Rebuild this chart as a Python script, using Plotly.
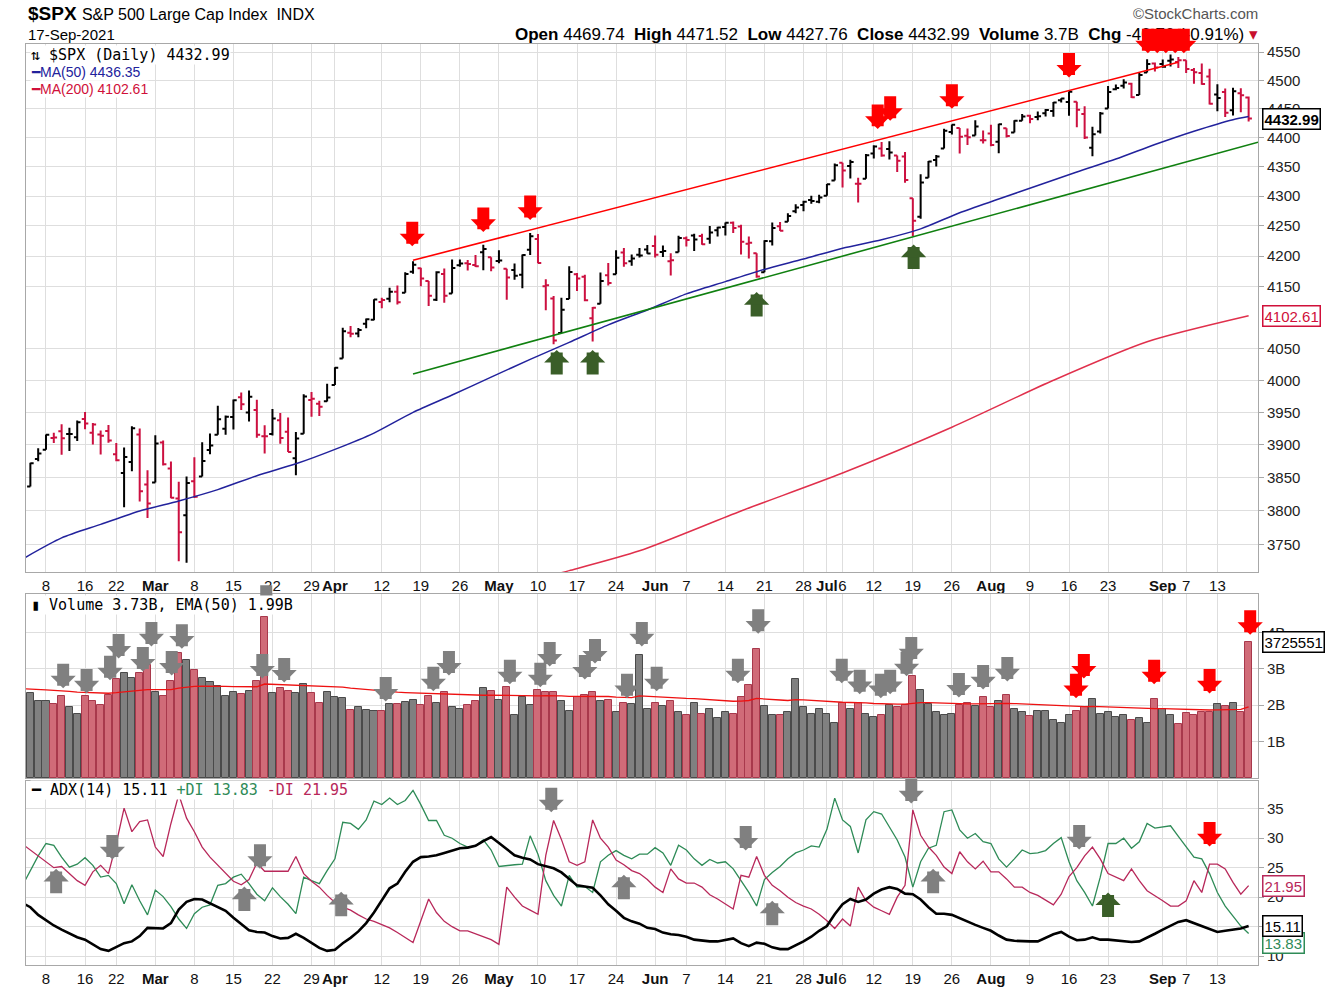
import math
import pandas as pd
import plotly.graph_objects as go

# ---------------- data ----------------
holidays = ["2021-02-15", "2021-04-02", "2021-05-31", "2021-07-05", "2021-09-06"]
dates = [d for d in pd.bdate_range("2021-02-03", "2021-09-17") if d.strftime("%Y-%m-%d") not in holidays]
prior_close = 3826.31

opens = [3840.27, 3836.66, 3878.30, 3892.59, 3910.49, 3920.78, 3916.40, 3911.65, 3939.61, 3918.50, 3915.86, 3921.16, 3885.55, 3857.07, 3873.71, 3915.80, 3839.66,
         3842.51, 3903.64, 3863.99, 3818.53, 3793.58, 3844.39, 3851.93, 3891.99, 3915.54, 3924.52, 3942.96, 3973.59, 3949.57, 3953.50, 3913.14, 3916.48, 3937.60, 3919.93, 3879.34, 3917.12, 3969.31, 3963.34, 3967.25,
         3992.78, 4034.44, 4075.57, 4074.29, 4089.95, 4096.11, 4124.71, 4130.10, 4141.58, 4139.76, 4174.14, 4179.80, 4159.18, 4128.42, 4170.46, 4138.78, 4185.03, 4188.25, 4185.14, 4206.14, 4198.10,
         4191.98, 4179.04, 4177.06, 4169.14, 4210.34, 4228.29, 4150.34, 4130.55, 4074.99, 4129.58, 4169.92, 4165.94, 4098.45, 4121.97, 4168.61, 4170.16, 4205.94, 4191.59, 4201.94, 4210.77,
         4216.52, 4206.82, 4191.43, 4206.05, 4229.34, 4233.81, 4232.99, 4228.56, 4242.90, 4248.31, 4255.28, 4248.87, 4220.37, 4204.78, 4173.40, 4224.61, 4249.27, 4256.97, 4274.45, 4284.90, 4293.21, 4290.65,
         4300.73, 4326.60, 4356.46, 4351.01, 4321.07, 4329.38, 4372.41, 4381.07, 4380.11, 4369.02, 4367.43, 4296.40, 4265.11, 4331.13, 4361.27, 4381.20, 4409.58, 4416.38, 4402.95, 4403.59, 4395.12,
         4406.86, 4392.74, 4415.95, 4408.86, 4429.07, 4437.77, 4435.79, 4442.18, 4446.08, 4464.84, 4461.65, 4462.12, 4440.94, 4382.44, 4410.56, 4450.29, 4484.40, 4490.45, 4493.75, 4474.10, 4513.76, 4529.75,
         4528.80, 4534.48, 4532.42, 4535.38, 4518.09, 4513.02, 4506.92, 4474.81, 4479.33, 4447.49, 4477.09, 4469.74]
highs = [3847.51, 3872.42, 3894.56, 3915.77, 3918.35, 3931.50, 3925.99, 3937.23, 3950.43, 3933.61, 3921.98, 3930.41, 3902.92, 3895.98, 3928.65, 3925.02, 3861.08,
         3914.50, 3906.41, 3874.47, 3843.67, 3851.69, 3881.06, 3903.76, 3917.35, 3960.27, 3944.99, 3970.08, 3981.04, 3983.87, 3969.62, 3930.12, 3955.31, 3949.13, 3942.08, 3919.54, 3978.19, 3981.83, 3968.01, 3994.41,
         4020.63, 4083.42, 4086.23, 4083.13, 4098.19, 4129.48, 4131.76, 4148.00, 4151.69, 4173.49, 4191.31, 4180.81, 4159.18, 4175.02, 4179.57, 4194.17, 4194.19, 4193.35, 4201.53, 4218.78, 4198.10,
         4209.39, 4179.04, 4187.72, 4202.70, 4238.04, 4236.39, 4162.04, 4134.73, 4131.58, 4183.13, 4171.92, 4169.15, 4116.93, 4172.80, 4188.72, 4209.52, 4213.42, 4202.61, 4213.38, 4218.36,
         4234.12, 4217.37, 4204.39, 4233.45, 4232.34, 4236.74, 4237.09, 4249.74, 4248.38, 4255.59, 4257.16, 4251.89, 4232.29, 4204.78, 4226.24, 4255.84, 4256.60, 4271.28, 4286.12, 4292.14, 4300.52, 4302.43,
         4320.66, 4355.43, 4356.46, 4361.88, 4330.88, 4371.60, 4386.68, 4392.37, 4393.68, 4369.02, 4375.09, 4296.40, 4336.84, 4359.70, 4369.87, 4415.18, 4422.73, 4416.38, 4415.47, 4429.97, 4412.25,
         4422.18, 4423.79, 4416.17, 4429.76, 4440.82, 4439.39, 4445.21, 4449.44, 4461.77, 4468.37, 4480.26, 4462.12, 4454.32, 4418.61, 4444.35, 4489.88, 4492.81, 4501.71, 4495.90, 4513.33, 4537.36, 4531.39,
         4537.11, 4545.85, 4541.45, 4535.38, 4521.79, 4529.90, 4520.47, 4492.99, 4485.68, 4486.87, 4485.87, 4471.52]
lows = [3816.68, 3836.66, 3874.93, 3892.59, 3902.64, 3884.94, 3890.39, 3905.78, 3923.85, 3900.43, 3885.03, 3903.07, 3874.71, 3805.59, 3859.60, 3814.04, 3789.54,
        3842.51, 3868.57, 3818.86, 3725.60, 3723.34, 3819.25, 3851.93, 3885.73, 3915.54, 3915.21, 3923.54, 3953.44, 3935.74, 3910.86, 3886.75, 3914.16, 3901.57, 3889.07, 3853.50, 3917.12, 3943.25, 3944.35, 3966.98,
        3992.78, 4034.44, 4068.14, 4068.31, 4082.54, 4095.51, 4114.82, 4124.43, 4120.87, 4139.76, 4170.75, 4150.47, 4118.38, 4126.35, 4123.69, 4138.78, 4182.36, 4176.22, 4181.78, 4176.81, 4174.85,
        4188.03, 4128.59, 4160.94, 4147.33, 4201.64, 4188.13, 4111.53, 4056.88, 4074.99, 4129.58, 4142.69, 4125.99, 4061.41, 4121.97, 4151.72, 4170.16, 4182.52, 4184.11, 4197.78, 4203.57,
        4197.59, 4198.27, 4167.93, 4206.05, 4215.66, 4208.41, 4218.74, 4220.34, 4232.25, 4234.07, 4238.35, 4202.45, 4196.05, 4164.40, 4173.40, 4217.27, 4241.43, 4256.97, 4271.16, 4274.67, 4287.04, 4287.96,
        4300.73, 4326.60, 4314.37, 4329.79, 4289.37, 4329.38, 4364.03, 4366.92, 4362.36, 4340.70, 4322.53, 4233.13, 4262.05, 4331.13, 4350.06, 4381.20, 4405.45, 4372.51, 4387.01, 4403.59, 4389.65,
        4384.81, 4373.00, 4400.23, 4408.86, 4429.07, 4424.74, 4430.03, 4436.42, 4435.96, 4460.82, 4437.66, 4417.83, 4397.59, 4367.73, 4406.80, 4450.29, 4482.28, 4485.66, 4468.99, 4474.10, 4513.76, 4515.80,
        4522.02, 4524.66, 4521.94, 4513.00, 4493.95, 4492.07, 4457.66, 4445.70, 4435.46, 4438.37, 4443.80, 4427.76]
closes = [3830.17, 3871.74, 3886.83, 3915.59, 3911.23, 3909.88, 3916.38, 3934.83, 3932.59, 3931.33, 3913.97, 3906.71, 3876.50, 3881.37, 3925.43, 3829.34, 3811.15,
          3901.82, 3870.29, 3819.72, 3768.47, 3841.94, 3821.35, 3875.44, 3898.81, 3939.34, 3943.34, 3968.94, 3962.71, 3974.12, 3915.46, 3913.10, 3940.59, 3910.52, 3889.14, 3909.52, 3974.54, 3971.09, 3958.55, 3972.89,
          4019.87, 4077.91, 4073.94, 4079.95, 4097.17, 4128.80, 4127.99, 4141.59, 4124.66, 4170.42, 4185.47, 4163.26, 4134.94, 4173.42, 4134.98, 4180.17, 4187.62, 4186.72, 4183.18, 4211.47, 4181.17,
          4192.66, 4164.66, 4167.59, 4201.62, 4232.60, 4188.43, 4152.10, 4063.04, 4112.50, 4173.85, 4163.29, 4127.83, 4115.68, 4159.12, 4155.86, 4197.05, 4188.13, 4195.99, 4200.88, 4204.11,
          4202.04, 4208.12, 4192.85, 4229.89, 4226.52, 4227.26, 4219.55, 4239.18, 4247.44, 4255.15, 4246.59, 4223.70, 4221.86, 4166.45, 4224.79, 4246.44, 4241.84, 4266.49, 4280.70, 4290.61, 4291.80, 4297.50,
          4319.94, 4352.34, 4343.54, 4358.13, 4320.82, 4369.55, 4384.63, 4369.21, 4374.30, 4360.03, 4327.16, 4258.49, 4323.06, 4358.69, 4367.48, 4411.79, 4422.30, 4401.46, 4400.64, 4419.15, 4395.26,
          4387.16, 4423.15, 4402.66, 4429.10, 4436.52, 4432.35, 4436.75, 4447.70, 4460.83, 4468.00, 4479.71, 4448.08, 4400.27, 4405.80, 4441.67, 4479.53, 4486.23, 4496.19, 4470.00, 4509.37, 4528.79, 4522.68,
          4524.09, 4536.95, 4535.43, 4520.03, 4514.07, 4493.28, 4458.58, 4468.73, 4443.05, 4480.70, 4473.75, 4432.99]

volume_b = [2.45, 2.33, 2.10, 2.10, 2.03, 2.24, 1.94, 1.76, 2.24, 2.12, 1.99, 2.28, 2.72, 2.89, 2.75, 2.89, 3.10,
            2.37, 2.24, 2.66, 3.42, 3.25, 2.96, 2.75, 2.63, 2.53, 2.24, 2.37, 2.31, 2.40, 2.65, 4.42, 2.33, 2.46, 2.39, 2.33, 2.57, 2.33, 2.07, 2.37,
            2.21, 2.19, 1.87, 1.96, 1.87, 1.85, 1.85, 2.03, 2.03, 2.08, 2.15, 1.99, 2.24, 2.05, 2.37, 1.96, 1.89, 1.99, 2.12, 2.46, 2.39,
            2.15, 2.49, 1.72, 2.21, 2.01, 2.42, 2.37, 2.37, 2.10, 1.85, 2.21, 2.28, 2.37, 2.12, 2.15, 1.81, 2.07, 2.03, 3.37, 1.90,
            2.07, 1.98, 2.12, 1.81, 1.74, 2.07, 1.76, 1.90, 1.65, 1.81, 1.76, 2.21, 2.54, 3.55, 1.98, 1.72, 1.72, 1.81, 2.71, 1.94, 1.76, 1.90,
            1.76, 1.51, 2.05, 1.90, 2.05, 1.76, 1.67, 1.74, 1.99, 1.95, 2.01, 2.80, 2.42, 2.03, 1.81, 1.74, 1.76, 2.01, 2.07, 1.98, 2.21,
            1.95, 2.12, 2.28, 1.90, 1.81, 1.69, 1.85, 1.85, 1.60, 1.51, 1.74, 1.85, 1.94, 2.16, 1.76, 1.81, 1.67, 1.72, 1.60, 1.65, 1.51, 2.16,
            1.90, 1.72, 1.48, 1.78, 1.72, 1.81, 1.81, 2.03, 1.98, 2.07, 1.81, 3.73]
vol_ema_start_b = 2.45

adx = [19.0, 18.3, 17.0, 16.1, 15.2, 14.5, 13.8, 13.2, 12.8, 12.0, 11.2, 10.9, 11.6, 12.2, 12.5, 13.4, 14.8, 14.7, 14.7, 15.6,
       17.9, 19.2, 19.7, 19.6, 19.0, 18.4, 17.7, 16.5, 15.4, 14.4, 14.1, 14.0, 13.4, 13.0, 13.1, 13.8, 13.1, 12.3, 11.4, 10.9,
       11.1, 12.2, 13.1, 14.2, 15.6, 17.4, 19.5, 21.5, 22.3, 24.3, 26.0, 26.8, 26.9, 27.1, 27.5, 27.9, 28.3, 28.4, 28.7, 29.5,
       30.2, 29.2, 28.2, 27.1, 26.7, 26.4, 25.6, 25.2, 24.9, 24.2, 23.1, 22.0, 21.8, 21.6, 20.3, 18.8, 17.7, 16.5, 15.9, 15.5,
       14.8, 14.6, 14.0, 13.7, 13.6, 13.3, 12.8, 12.6, 12.5, 12.5, 12.8, 13.0, 12.2, 11.7, 12.3, 12.1, 11.5, 11.2, 11.2, 11.8,
       12.5, 13.3, 14.3, 15.1, 17.1, 18.8, 19.7, 19.2, 19.6, 20.6, 21.3, 21.7, 21.4, 20.6, 20.5, 19.6, 18.3, 17.2, 17.2, 17.0,
       16.4, 15.8, 15.3, 14.8, 14.3, 13.5, 12.8, 12.6, 12.5, 12.5, 12.5, 13.1, 13.7, 14.1, 13.3, 12.7, 12.8, 13.2, 12.8, 12.8,
       12.7, 12.5, 12.4, 12.5, 13.1, 13.8, 14.5, 15.2, 15.8, 16.1, 15.6, 15.1, 14.6, 14.1, 14.3, 14.5, 14.7, 15.11]
plus_di = [22.0, 24.5, 27.0, 29.1, 28.8, 26.8, 25.1, 25.6, 26.7, 25.4, 23.4, 23.7, 22.3, 18.9, 22.1, 19.4, 17.0, 21.2, 20.1, 18.4,
           16.3, 14.7, 17.2, 18.3, 18.7, 22.0, 22.3, 23.4, 23.9, 22.3, 20.5, 19.4, 21.6, 20.1, 18.8, 17.2, 23.4, 22.8, 22.3, 24.5,
           26.5, 32.7, 32.5, 31.5, 33.1, 36.3, 35.7, 36.8, 35.7, 36.4, 38.1, 35.7, 33.0, 33.0, 30.5, 30.0, 29.1, 28.5, 28.7, 29.7,
           28.0, 25.2, 25.4, 25.5, 25.6, 30.4, 27.3, 22.8, 20.3, 18.5, 23.7, 21.7, 21.8, 20.8, 26.0, 27.1, 27.9, 27.1, 26.5, 27.3,
           27.3, 28.4, 27.5, 25.4, 28.8, 28.0, 26.5, 25.4, 26.4, 25.8, 26.0, 24.8, 22.8, 20.8, 18.5, 23.0, 24.2, 25.2, 26.5, 27.5,
           28.0, 28.7, 28.5, 31.5, 36.8, 33.1, 32.0, 27.5, 33.1, 34.5, 34.1, 32.0, 29.7, 26.8, 21.7, 26.0, 28.3, 28.8, 34.5, 34.8,
           31.4, 30.0, 30.8, 29.4, 29.1, 26.5, 25.1, 26.5, 28.0, 27.4, 27.5, 27.9, 29.1, 30.1, 26.0, 22.8, 20.8, 18.5, 23.4, 29.1,
           29.1, 30.0, 28.3, 29.4, 32.5, 31.7, 31.9, 32.1, 30.3, 28.5, 26.8, 26.5, 24.0, 20.8, 18.5, 16.8, 15.1, 13.83]
minus_di = [29.0, 28.0, 27.0, 26.0, 25.0, 25.2, 24.0, 22.8, 22.0, 24.3, 25.4, 24.0, 29.1, 35.1, 31.1, 32.8, 33.1, 28.5, 26.9, 32.5,
            37.4, 33.4, 31.1, 28.5, 26.8, 25.4, 24.0, 22.7, 22.1, 23.0, 25.8, 24.4, 24.4, 24.4, 24.4, 26.9, 24.0, 22.7, 21.7, 20.3,
            19.1, 18.3, 17.8, 17.0, 16.3, 15.9, 15.4, 14.8, 14.0, 13.2, 12.3, 16.0, 19.7, 17.4, 15.9, 15.0, 14.3, 14.3, 13.8, 13.3,
            12.8, 12.0, 21.7, 20.0, 18.5, 17.8, 17.1, 27.1, 33.0, 29.8, 26.0, 25.4, 26.0, 33.1, 30.0, 28.5, 26.3, 25.5, 24.5, 24.0,
            23.0, 21.7, 20.8, 24.8, 23.1, 22.4, 22.4, 21.7, 20.4, 19.7, 18.8, 18.0, 23.7, 23.4, 26.9, 23.7, 22.0, 21.1, 20.0, 19.1,
            18.5, 18.0, 17.1, 16.0, 14.7, 16.3, 15.1, 21.7, 19.4, 18.3, 17.7, 17.1, 20.0, 22.0, 34.8, 30.5, 28.5, 27.1, 25.1, 24.0,
            27.7, 26.0, 24.8, 26.1, 24.3, 24.3, 23.1, 21.7, 21.7, 20.8, 20.3, 19.5, 18.7, 20.5, 23.5, 25.0, 27.0, 28.5, 26.5, 24.0,
            23.4, 22.8, 24.8, 22.8, 21.1, 20.3, 19.4, 18.5, 18.5, 19.4, 22.8, 20.8, 25.6, 25.6, 24.8, 22.5, 20.5, 21.95]

ma50_dates = ["2021-02-03", "2021-02-10", "2021-02-18", "2021-02-25", "2021-03-04", "2021-03-11", "2021-03-18", "2021-03-25",
              "2021-04-01", "2021-04-09", "2021-04-16", "2021-04-23", "2021-04-30", "2021-05-07", "2021-05-14", "2021-05-21",
              "2021-05-28", "2021-06-07", "2021-06-14", "2021-06-21", "2021-06-28", "2021-07-06", "2021-07-13", "2021-07-20",
              "2021-07-27", "2021-08-03", "2021-08-10", "2021-08-17", "2021-08-24", "2021-08-31", "2021-09-08", "2021-09-15", "2021-09-17"]
ma50_vals = [3729, 3760, 3780, 3800, 3815, 3832, 3853, 3871, 3893, 3918, 3950, 3977, 4005, 4033, 4060, 4088,
             4112, 4138, 4158, 4178, 4195, 4213, 4227, 4245, 4272, 4295, 4318, 4341, 4363, 4388, 4411, 4431, 4436.35]
ma200_dates = ["2021-05-12", "2021-05-14", "2021-05-27", "2021-06-16", "2021-07-06", "2021-07-26", "2021-08-12", "2021-08-30", "2021-09-17"]
ma200_vals = [3706, 3712, 3741, 3800, 3857, 3927, 4000, 4061, 4102.61]

tick_dates = ["2021-02-08", "2021-02-16", "2021-02-22", "2021-03-01", "2021-03-08", "2021-03-15", "2021-03-22", "2021-03-29",
              "2021-04-01", "2021-04-12", "2021-04-19", "2021-04-26", "2021-05-03", "2021-05-10", "2021-05-17", "2021-05-24",
              "2021-06-01", "2021-06-07", "2021-06-14", "2021-06-21", "2021-06-28", "2021-07-01", "2021-07-06", "2021-07-12",
              "2021-07-19", "2021-07-26", "2021-08-02", "2021-08-09", "2021-08-16", "2021-08-23", "2021-09-01", "2021-09-07", "2021-09-13"]
tick_text = ["8", "16", "22", "Mar", "8", "15", "22", "29", "Apr", "12", "19", "26", "May", "10", "17", "24",
             "Jun", "7", "14", "21", "28", "Jul", "6", "12", "19", "26", "Aug", "9", "16", "23", "Sep", "7", "13"]
month_labels = {"Mar", "Apr", "May", "Jun", "Jul", "Aug", "Sep"}

# trendlines (date, price)
resistance_line = [("2021-04-16", 4193), ("2021-09-03", 4532)]
support_line = [("2021-04-16", 4010), ("2021-09-17", 4392)]

# annotation arrows: (trading-day position, value at arrow tip)
price_red_down = [(49.9, 4216), (59.0, 4240), (65.0, 4260), (109.5, 4415), (111.1, 4429), (119.0, 4450), (134.0, 4505),
                  (144.1, 4548), (145.3, 4548), (146.4, 4548), (147.6, 4548), (148.7, 4548)]
price_green_up = [(68.4, 4048), (73.0, 4048), (94.0, 4141), (114.1, 4219)]
vol_gray_down = [(5.2, 2.46), (8.2, 2.32), (11.2, 2.68), (12.3, 3.28), (15.4, 2.92), (16.5, 3.61), (19.1, 2.81), (20.4, 3.55),
                 (30.7, 2.73), (31.2, 4.62), (33.5, 2.62), (46.5, 2.10), (52.6, 2.38), (54.6, 2.81), (62.4, 2.57), (66.3, 2.49),
                 (67.5, 3.06), (72.0, 2.70), (73.3, 3.14), (77.4, 2.19), (79.3, 3.61), (81.2, 2.38), (91.6, 2.60), (94.2, 3.96),
                 (104.9, 2.60), (107.2, 2.30), (109.9, 2.19), (111.1, 2.30), (113.2, 2.79), (113.8, 3.20), (119.9, 2.21),
                 (123.0, 2.43), (126.1, 2.65)]
vol_red_down = [(134.9, 2.19), (135.9, 2.73), (144.9, 2.57), (152.0, 2.32), (157.2, 3.93)]
adx_gray_up = [(4.3, 24.8), (28.4, 21.8), (40.8, 20.9), (77.0, 23.8), (96.0, 19.4), (116.6, 24.8)]
adx_gray_down = [(11.5, 26.4), (30.4, 24.8), (67.7, 34.4), (92.6, 27.9), (113.8, 35.9), (135.3, 28.1)]
adx_green_up = [(139.0, 20.8)]
adx_red_down = [(152.0, 28.6)]

# ---------------- derived ----------------
N = len(dates)
date_pos = {d.strftime("%Y-%m-%d"): i for i, d in enumerate(dates)}
xs = list(range(N))
prev = [prior_close] + closes[:-1]
up = [c >= p for c, p in zip(closes, prev)]

vol = [v * 1e9 for v in volume_b]
ema = []
e = vol_ema_start_b * 1e9
k = 2 / 51
for v in vol:
    e = e + (v - e) * k
    ema.append(e)

BLACK = "#000000"
RED = "#cc1040"
NAVY = "#22229c"
MA200C = "#e0304c"
GRID = "#dedede"
AX = "#a8a8a8"

fig = go.Figure()

for flag, col in [(True, BLACK), (False, RED)]:
    idx = [i for i in xs if up[i] == flag]
    fig.add_trace(go.Ohlc(
        x=idx, open=[opens[i] for i in idx], high=[highs[i] for i in idx],
        low=[lows[i] for i in idx], close=[closes[i] for i in idx],
        increasing=dict(line=dict(color=col, width=2)), decreasing=dict(line=dict(color=col, width=2)),
        tickwidth=0.42, hoverinfo="skip", xaxis="x", yaxis="y", showlegend=False))

fig.add_trace(go.Scatter(x=[date_pos[d] for d in ma50_dates], y=ma50_vals, mode="lines",
                         line=dict(color=NAVY, width=1.5, shape="spline", smoothing=0.7),
                         xaxis="x", yaxis="y", hoverinfo="skip", showlegend=False))
fig.add_trace(go.Scatter(x=[date_pos[d] for d in ma200_dates], y=ma200_vals, mode="lines",
                         line=dict(color=MA200C, width=1.5, shape="spline", smoothing=0.7),
                         xaxis="x", yaxis="y", hoverinfo="skip", showlegend=False))
fig.add_trace(go.Scatter(x=[date_pos[d] for d, _ in resistance_line], y=[p for _, p in resistance_line], mode="lines",
                         line=dict(color="#ff0000", width=1.6), xaxis="x", yaxis="y", hoverinfo="skip", showlegend=False))
sx = [date_pos[d] for d, _ in support_line]
fig.add_trace(go.Scatter(x=[sx[0], sx[1] + 1.2], y=[p for _, p in support_line], mode="lines",
                         line=dict(color="#108010", width=1.6), xaxis="x", yaxis="y", hoverinfo="skip", showlegend=False))

# volume
fig.add_trace(go.Bar(x=xs, y=vol, width=0.9,
                     marker=dict(color=["#808080" if u else "#d06b78" for u in up],
                                 line=dict(color=["#4a4a4a" if u else "#a8394c" for u in up], width=1)),
                     xaxis="x2", yaxis="y2", hoverinfo="skip", showlegend=False))
fig.add_trace(go.Scatter(x=xs, y=ema, mode="lines", line=dict(color="#ee1111", width=1.3),
                         xaxis="x2", yaxis="y2", hoverinfo="skip", showlegend=False))

# ADX
fig.add_trace(go.Scatter(x=xs, y=plus_di, mode="lines", line=dict(color="#2e8b57", width=1.3),
                         xaxis="x3", yaxis="y3", hoverinfo="skip", showlegend=False))
fig.add_trace(go.Scatter(x=xs, y=minus_di, mode="lines", line=dict(color="#b8285a", width=1.3),
                         xaxis="x3", yaxis="y3", hoverinfo="skip", showlegend=False))
fig.add_trace(go.Scatter(x=xs, y=adx, mode="lines", line=dict(color="#000000", width=2.6),
                         xaxis="x3", yaxis="y3", hoverinfo="skip", showlegend=False))

# ---------------- layout ----------------
W, H = 1329, 990
L, R, T, B = 26, 71, 44, 25
PW, PH = W - L - R, H - T - B


def py(pix):
    return (H - B - pix) / PH


x_range = [0.44, 158.2]
tickvals = [date_pos[d] for d in tick_dates]
ticktext = [("<b>%s</b>" % t) if t in month_labels else t for t in tick_text]

xcommon = dict(range=x_range, tickvals=tickvals, showgrid=True, gridcolor=GRID, gridwidth=1,
               showline=True, mirror=True, linecolor=AX, linewidth=1, zeroline=False, ticks="",
               tickangle=0, tickfont=dict(family="Arial", size=15, color="#111"))
ycommon = dict(side="right", showgrid=True, gridcolor=GRID, gridwidth=1, showline=True, mirror=True,
               linecolor=AX, linewidth=1, zeroline=False, ticks="outside", ticklen=5, tickcolor=AX,
               tickfont=dict(family="Arial", size=15, color="#222"))

price_ticks = [v for v in range(3750, 4551, 50) if v != 4100]
fig.update_layout(
    width=W, height=H, margin=dict(l=L, r=R, t=T, b=B, autoexpand=False), paper_bgcolor="white", plot_bgcolor="white",
    showlegend=False, bargap=0,
    xaxis=dict(xcommon, domain=[0, 1], anchor="y", ticktext=ticktext, rangeslider=dict(visible=False)),
    xaxis2=dict(xcommon, domain=[0, 1], anchor="y2", matches="x", showticklabels=False),
    xaxis3=dict(xcommon, domain=[0, 1], anchor="y3", matches="x", ticktext=ticktext),
    yaxis=dict(ycommon, domain=[py(572), 1], anchor="x", type="log",
               range=[math.log10(3710), math.log10(4564.6)], tickvals=price_ticks,
               ticktext=[str(v) for v in price_ticks]),
    yaxis2=dict(ycommon, domain=[py(778), py(594)], anchor="x2", range=[0, 5.05e9],
                tickvals=[1e9, 2e9, 3e9, 4e9], ticktext=["1B", "2B", "3B", "4B"]),
    yaxis3=dict(ycommon, domain=[0, py(781)], anchor="x3", range=[8.5, 39.7],
                tickvals=[10, 15, 20, 25, 30, 35], ticktext=["10", "15", "20", "25", "30", "35"]),
)

ann = []


def arrow(x, y, xref, yref, color, down):
    ann.append(dict(x=x, y=y, xref=xref, yref=yref, text="", showarrow=True, arrowhead=1,
                    arrowsize=0.35, arrowwidth=12, arrowcolor=color, ax=0, ay=-26 if down else 26,
                    standoff=0, startstandoff=0))


# header texts (drawn first so arrows overlay them)
ann.append(dict(xref="paper", yref="paper", x=0, y=py(14), xanchor="left", yanchor="middle", showarrow=False,
                text="<b>$SPX</b> <span style='font-size:16px'>S&amp;P 500 Large Cap Index  INDX</span>",
                font=dict(family="Arial", size=19, color="#000")))
ann.append(dict(xref="paper", yref="paper", x=0, y=py(34), xanchor="left", yanchor="middle", showarrow=False,
                text="17-Sep-2021", font=dict(family="Arial", size=15, color="#000")))
ann.append(dict(xref="paper", yref="paper", x=1.002, y=py(14), xanchor="right", yanchor="middle", showarrow=False,
                text="©StockCharts.com", font=dict(family="Arial", size=15, color="#555")))
ann.append(dict(xref="paper", yref="paper", x=1.002, y=py(34), xanchor="right", yanchor="middle", showarrow=False,
                text="<b>Open</b> 4469.74  <b>High</b> 4471.52  <b>Low</b> 4427.76  <b>Close</b> 4432.99  "
                     "<b>Volume</b> 3.7B  <b>Chg</b> -40.76 (-0.91%) <span style='color:#c8102e'>▾</span>",
                font=dict(family="Arial", size=17, color="#000")))

for x, p in price_red_down:
    arrow(x, math.log10(p), "x", "y", "#ff0000", True)
for x, p in price_green_up:
    arrow(x, math.log10(p), "x", "y", "#3a5e28", False)
for x, v in vol_gray_down:
    arrow(x, v * 1e9, "x2", "y2", "#808080", True)
for x, v in vol_red_down:
    arrow(x, v * 1e9, "x2", "y2", "#ff0000", True)
for x, v in adx_gray_up:
    arrow(x, v, "x3", "y3", "#808080", False)
for x, v in adx_gray_down:
    arrow(x, v, "x3", "y3", "#808080", True)
for x, v in adx_green_up:
    arrow(x, v, "x3", "y3", "#3a5e28", False)
for x, v in adx_red_down:
    arrow(x, v, "x3", "y3", "#ff0000", True)

# in-panel legends
MONO = "DejaVu Sans Mono"
ann.append(dict(xref="paper", yref="paper", x=0.003, y=py(55), xanchor="left", yanchor="middle", showarrow=False,
                text="⇅ $SPX (Daily) 4432.99", bgcolor="white", borderpad=0, font=dict(family=MONO, size=15, color="#000")))
for ypix, txt, col in [(72, "━MA(50) 4436.35", NAVY), (89, "━MA(200) 4102.61", "#d0103a")]:
    ann.append(dict(xref="paper", yref="paper", x=0.003, y=py(ypix), xanchor="left", yanchor="middle", showarrow=False,
                    text=txt, bgcolor="white", borderpad=0, font=dict(family="Arial", size=14, color=col)))
ann.append(dict(xref="paper", yref="paper", x=0.003, y=py(605), xanchor="left", yanchor="middle", showarrow=False,
                text="▮ Volume 3.73B, EMA(50) 1.99B", bgcolor="white", borderpad=0,
                font=dict(family=MONO, size=15, color="#000")))
ann.append(dict(xref="paper", yref="paper", x=0.003, y=py(790), xanchor="left", yanchor="middle", showarrow=False,
                text="━ ADX(14) 15.11 <span style='color:#2e8b57'>+DI 13.83</span> <span style='color:#b8285a'>-DI 21.95</span>",
                bgcolor="white", borderpad=0, font=dict(family=MONO, size=15, color="#000")))

# right-edge value boxes
def valbox(y, yref, txt, col, bold=False):
    ann.append(dict(xref="paper", yref=yref, x=1.003, y=y, xanchor="left", yanchor="middle", showarrow=False,
                    text=("<b>%s</b>" % txt) if bold else txt, bgcolor="white", bordercolor=col, borderwidth=1.5,
                    borderpad=1, font=dict(family="Arial", size=15, color=col)))


valbox(math.log10(closes[-1]), "y", "4432.99", "#000", True)
valbox(math.log10(ma200_vals[-1]), "y", "4102.61", "#d0103a")
valbox(vol[-1], "y2", "3725551", "#000")
valbox(plus_di[-1] - 1.6, "y3", "13.83", "#2e8b57")
valbox(adx[-1], "y3", "15.11", "#000")
valbox(minus_di[-1], "y3", "21.95", "#b8285a")

fig.update_layout(annotations=ann)
fig.write_html("out.html", config={"displayModeBar": False},
               post_script="document.body.style.margin='0px';document.body.style.overflow='hidden';")
